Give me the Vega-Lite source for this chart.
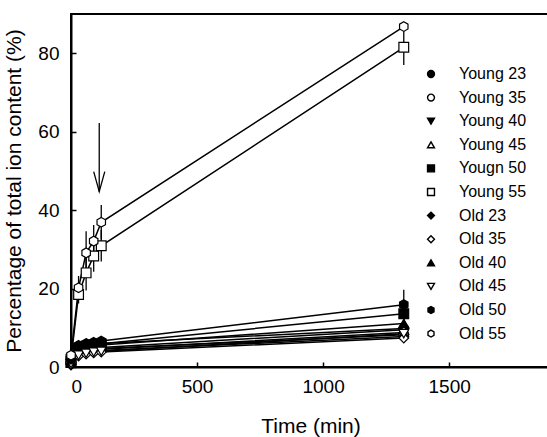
{
  "$schema": "https://vega.github.io/schema/vega-lite/v6.json",
  "autosize": "none",
  "padding": {"left": 71, "top": 14, "right": 0, "bottom": 70},
  "width": 479,
  "height": 353,
  "background": "white",
  "config": {
    "font": "Liberation Sans",
    "view": {"stroke": "black", "strokeWidth": 2}
  },
  "datasets": {
    "obs": [
      {"series": "Young 23", "t": 0, "v": 1.0, "e": 0},
      {"series": "Young 23", "t": 30, "v": 5.2, "e": 0.6},
      {"series": "Young 23", "t": 60, "v": 5.6, "e": 0.6},
      {"series": "Young 23", "t": 90, "v": 5.8, "e": 0.6},
      {"series": "Young 23", "t": 120, "v": 6.0, "e": 0.6},
      {"series": "Young 23", "t": 1320, "v": 9.8, "e": 1},
      {"series": "Young 35", "t": 0, "v": 1.2, "e": 0},
      {"series": "Young 35", "t": 30, "v": 3.6, "e": 0.5},
      {"series": "Young 35", "t": 60, "v": 4.2, "e": 0.5},
      {"series": "Young 35", "t": 90, "v": 4.5, "e": 0.5},
      {"series": "Young 35", "t": 120, "v": 4.7, "e": 0.5},
      {"series": "Young 35", "t": 1320, "v": 8.2, "e": 1},
      {"series": "Young 40", "t": 0, "v": 0.8, "e": 0},
      {"series": "Young 40", "t": 30, "v": 3.4, "e": 0.5},
      {"series": "Young 40", "t": 60, "v": 4.0, "e": 0.5},
      {"series": "Young 40", "t": 90, "v": 4.3, "e": 0.5},
      {"series": "Young 40", "t": 120, "v": 4.5, "e": 0.5},
      {"series": "Young 40", "t": 1320, "v": 8.8, "e": 1},
      {"series": "Young 45", "t": 0, "v": 1.0, "e": 0},
      {"series": "Young 45", "t": 30, "v": 3.8, "e": 0.5},
      {"series": "Young 45", "t": 60, "v": 4.4, "e": 0.5},
      {"series": "Young 45", "t": 90, "v": 4.7, "e": 0.5},
      {"series": "Young 45", "t": 120, "v": 5.0, "e": 0.5},
      {"series": "Young 45", "t": 1320, "v": 9.5, "e": 1},
      {"series": "Yougn 50", "t": 0, "v": 1.5, "e": 0},
      {"series": "Yougn 50", "t": 30, "v": 4.8, "e": 0.6},
      {"series": "Yougn 50", "t": 60, "v": 5.3, "e": 0.6},
      {"series": "Yougn 50", "t": 90, "v": 5.6, "e": 0.6},
      {"series": "Yougn 50", "t": 120, "v": 5.9, "e": 0.6},
      {"series": "Yougn 50", "t": 1320, "v": 13.6, "e": 2},
      {"series": "Young 55", "t": 0, "v": 2.0, "e": 0},
      {"series": "Young 55", "t": 30, "v": 18.5, "e": 2.3},
      {"series": "Young 55", "t": 60, "v": 24.0, "e": 4.5},
      {"series": "Young 55", "t": 90, "v": 28.3, "e": 4},
      {"series": "Young 55", "t": 120, "v": 30.9, "e": 4},
      {"series": "Young 55", "t": 1320, "v": 81.5, "e": 4.5},
      {"series": "Old 23", "t": 0, "v": 0.5, "e": 0},
      {"series": "Old 23", "t": 30, "v": 3.2, "e": 0.5},
      {"series": "Old 23", "t": 60, "v": 3.7, "e": 0.5},
      {"series": "Old 23", "t": 90, "v": 4.0, "e": 0.5},
      {"series": "Old 23", "t": 120, "v": 4.2, "e": 0.5},
      {"series": "Old 23", "t": 1320, "v": 7.8, "e": 1},
      {"series": "Old 35", "t": 0, "v": 0.7, "e": 0},
      {"series": "Old 35", "t": 30, "v": 2.8, "e": 0.5},
      {"series": "Old 35", "t": 60, "v": 3.3, "e": 0.5},
      {"series": "Old 35", "t": 90, "v": 3.6, "e": 0.5},
      {"series": "Old 35", "t": 120, "v": 3.8, "e": 0.5},
      {"series": "Old 35", "t": 1320, "v": 7.4, "e": 1},
      {"series": "Old 40", "t": 0, "v": 1.3, "e": 0},
      {"series": "Old 40", "t": 30, "v": 4.5, "e": 0.5},
      {"series": "Old 40", "t": 60, "v": 5.0, "e": 0.5},
      {"series": "Old 40", "t": 90, "v": 5.3, "e": 0.5},
      {"series": "Old 40", "t": 120, "v": 5.6, "e": 0.5},
      {"series": "Old 40", "t": 1320, "v": 11.1, "e": 1},
      {"series": "Old 45", "t": 0, "v": 0.9, "e": 0},
      {"series": "Old 45", "t": 30, "v": 3.0, "e": 0.5},
      {"series": "Old 45", "t": 60, "v": 3.5, "e": 0.5},
      {"series": "Old 45", "t": 90, "v": 3.8, "e": 0.5},
      {"series": "Old 45", "t": 120, "v": 4.0, "e": 0.5},
      {"series": "Old 45", "t": 1320, "v": 8.5, "e": 1},
      {"series": "Old 50", "t": 0, "v": 2.0, "e": 0},
      {"series": "Old 50", "t": 30, "v": 5.5, "e": 0.6},
      {"series": "Old 50", "t": 60, "v": 6.0, "e": 0.6},
      {"series": "Old 50", "t": 90, "v": 6.3, "e": 0.6},
      {"series": "Old 50", "t": 120, "v": 6.6, "e": 0.6},
      {"series": "Old 50", "t": 1320, "v": 15.9, "e": 3.8},
      {"series": "Old 55", "t": 0, "v": 3.0, "e": 0},
      {"series": "Old 55", "t": 30, "v": 20.2, "e": 3},
      {"series": "Old 55", "t": 60, "v": 29.1, "e": 5.5},
      {"series": "Old 55", "t": 90, "v": 32.1, "e": 4.1},
      {"series": "Old 55", "t": 120, "v": 36.9, "e": 4.4},
      {"series": "Old 55", "t": 1320, "v": 86.8, "e": 0}
    ],
    "arrowShaft": [
      {"t": 112, "v": 62.2},
      {"t": 112, "v": 44.7}
    ],
    "arrowHead": [
      {"t": 90, "v": 49.8, "o": 1},
      {"t": 112, "v": 44.7, "o": 2},
      {"t": 134, "v": 49.8, "o": 3}
    ]
  },
  "layer": [
    {
      "data": {"name": "obs"},
      "transform": [
        {"calculate": "datum.v - datum.e", "as": "lo"},
        {"calculate": "datum.v + datum.e", "as": "hi"}
      ],
      "mark": {"type": "rule", "color": "black", "strokeWidth": 1.3},
      "encoding": {
        "x": {"field": "t", "type": "quantitative"},
        "y": {"field": "lo", "type": "quantitative"},
        "y2": {"field": "hi"}
      }
    },
    {
      "data": {"name": "obs"},
      "mark": {"type": "line", "color": "black", "strokeWidth": 1.5},
      "encoding": {
        "x": {"field": "t", "type": "quantitative", "scale": {"domain": [0, 1900], "nice": false},
          "axis": {"title": "Time (min)", "values": [0, 500, 1000, 1500], "format": "d", "grid": false, "tickSize": -5, "tickWidth": 1.5, "tickColor": "black", "domainColor": "black", "domainWidth": 2, "labelPadding": 15, "labelFont": "Liberation Sans", "labelFontSize": 19, "labelColor": "black", "titleFont": "Liberation Sans", "titleFontSize": 21, "titleFontWeight": "normal", "titleColor": "black", "titlePadding": 19}},
        "y": {"field": "v", "type": "quantitative", "scale": {"domain": [0, 90], "nice": false},
          "axis": {"title": "Percentage of total ion content (%)", "values": [0, 20, 40, 60, 80], "grid": false, "tickSize": -5, "tickWidth": 1.5, "tickColor": "black", "domainColor": "black", "domainWidth": 2, "labelPadding": 17, "labelFont": "Liberation Sans", "labelFontSize": 19, "labelColor": "black", "titleFont": "Liberation Sans", "titleFontSize": 21, "titleFontWeight": "normal", "titleColor": "black", "titlePadding": 13}},
        "detail": {"field": "series"}
      }
    },
    {
      "data": {"name": "obs"},
      "mark": {"type": "point", "filled": false, "strokeWidth": 1.2, "size": 95, "opacity": 1},
      "encoding": {
        "x": {"field": "t", "type": "quantitative"},
        "y": {"field": "v", "type": "quantitative"},
        "shape": {"field": "series", "type": "nominal", "scale": {"domain": ["Young 23", "Young 35", "Young 40", "Young 45", "Yougn 50", "Young 55", "Old 23", "Old 35", "Old 40", "Old 45", "Old 50", "Old 55"], "range": ["circle", "circle", "triangle-down", "triangle-up", "square", "square", "diamond", "diamond", "triangle-up", "triangle-down", "M0,-1L0.866,-0.5L0.866,0.5L0,1L-0.866,0.5L-0.866,-0.5Z", "M0,-1L0.866,-0.5L0.866,0.5L0,1L-0.866,0.5L-0.866,-0.5Z"]},
          "legend": {"title": null, "orient": "none", "legendX": 352, "legendY": 52, "padding": 0, "labelFont": "Liberation Sans", "labelFontSize": 16, "labelColor": "black", "labelOffset": 20, "rowPadding": 7.6, "symbolSize": 48, "symbolStrokeWidth": 1.4}},
        "fill": {"field": "series", "type": "nominal", "scale": {"domain": ["Young 23", "Young 35", "Young 40", "Young 45", "Yougn 50", "Young 55", "Old 23", "Old 35", "Old 40", "Old 45", "Old 50", "Old 55"], "range": ["black", "white", "black", "white", "black", "white", "black", "white", "black", "white", "black", "white"]}},
        "stroke": {"field": "series", "type": "nominal", "scale": {"domain": ["Young 23", "Young 35", "Young 40", "Young 45", "Yougn 50", "Young 55", "Old 23", "Old 35", "Old 40", "Old 45", "Old 50", "Old 55"], "range": ["black", "black", "black", "black", "black", "black", "black", "black", "black", "black", "black", "black"]}}
      }
    },
    {
      "data": {"name": "arrowShaft"},
      "mark": {"type": "line", "color": "black", "strokeWidth": 1.3},
      "encoding": {
        "x": {"field": "t", "type": "quantitative"},
        "y": {"field": "v", "type": "quantitative"}
      }
    },
    {
      "data": {"name": "arrowHead"},
      "mark": {"type": "line", "color": "black", "strokeWidth": 1.3},
      "encoding": {
        "x": {"field": "t", "type": "quantitative"},
        "y": {"field": "v", "type": "quantitative"},
        "order": {"field": "o"}
      }
    }
  ]
}
